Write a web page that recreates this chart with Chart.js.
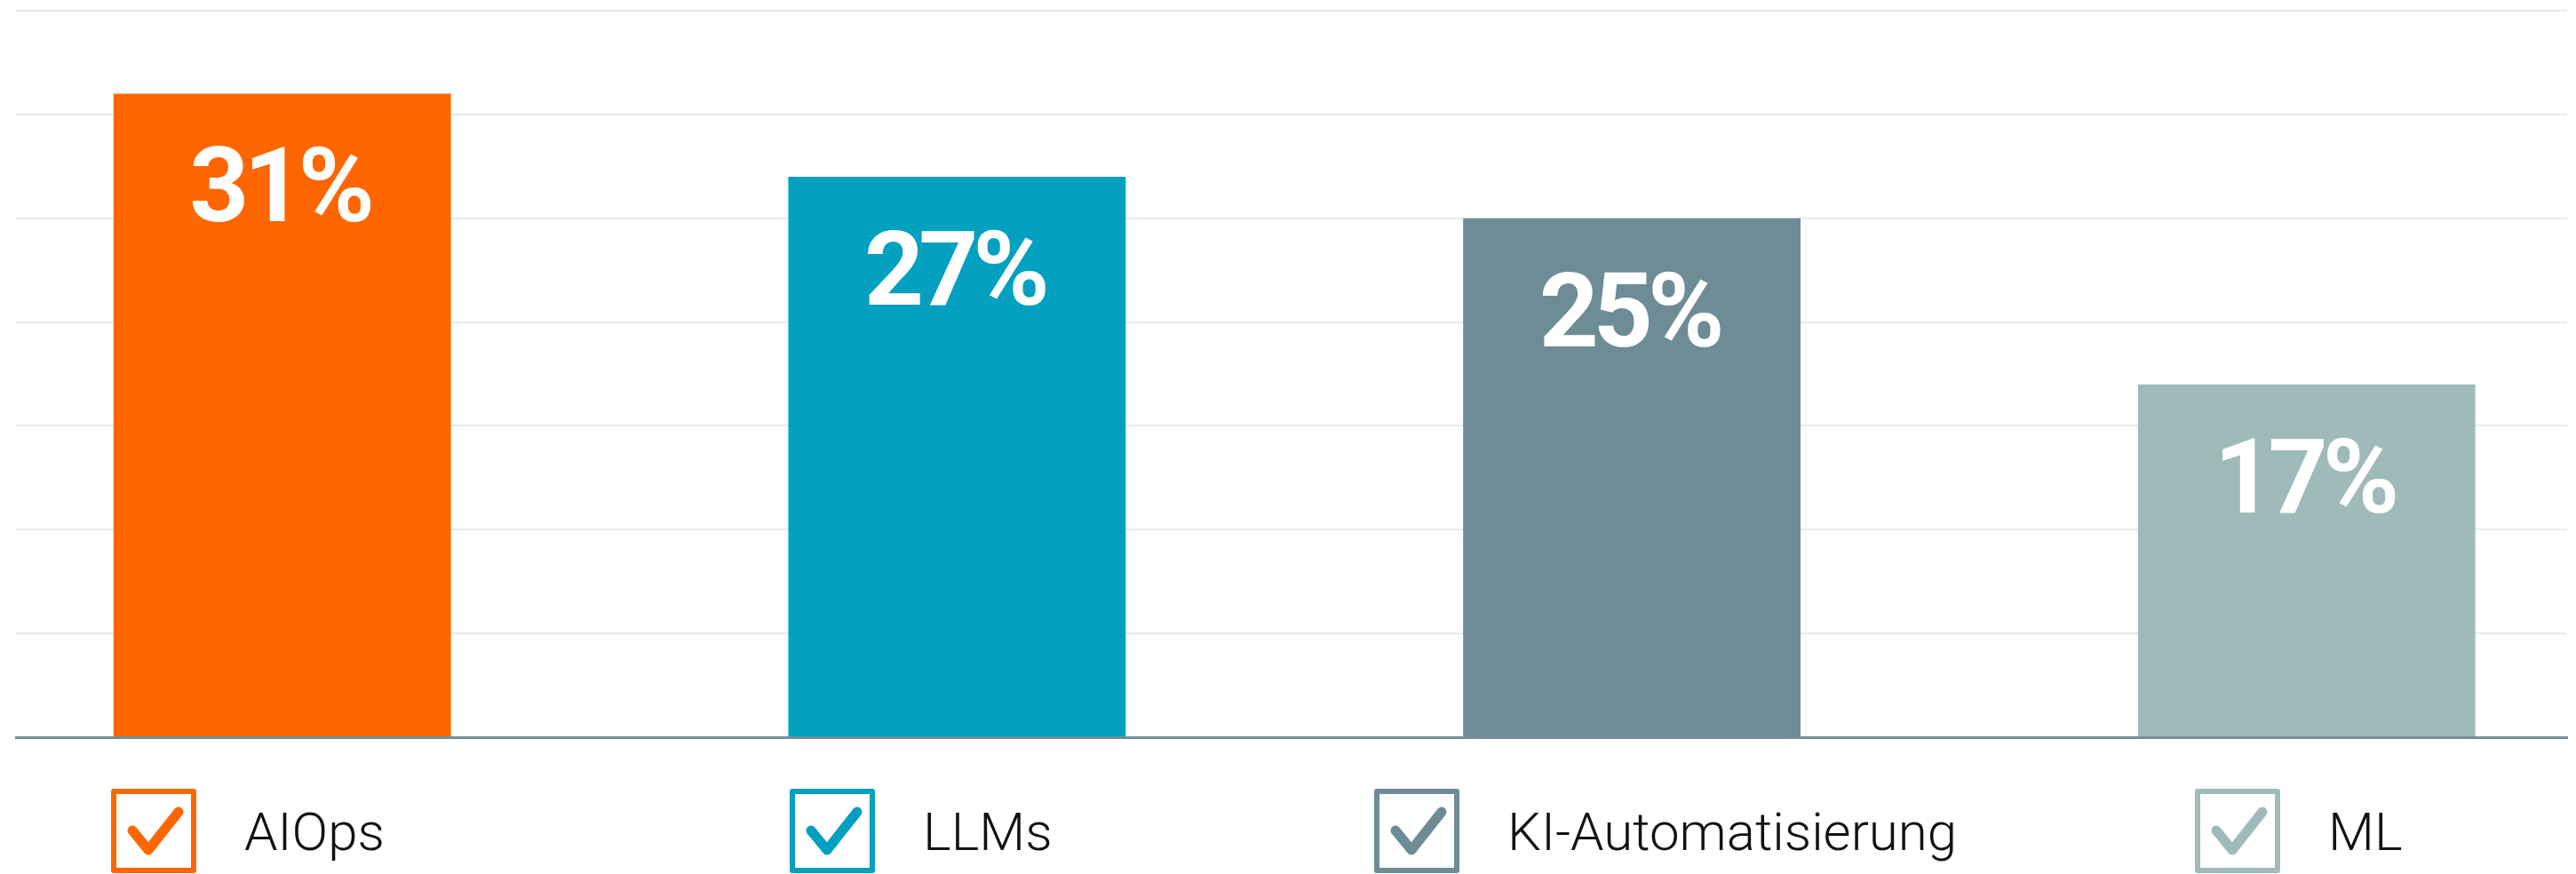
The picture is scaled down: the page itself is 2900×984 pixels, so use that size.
<!DOCTYPE html>
<html lang="de">
<head>
<meta charset="utf-8">
<title>KI-Themen</title>
<script src="https://cdn.jsdelivr.net/npm/chart.js@4.4.1/dist/chart.umd.min.js"></script>
<style>
  html, body { margin: 0; padding: 0; background: #fff; }
  #wrap { position: relative; width: 2900px; height: 984px; overflow: hidden; }
  #chart { position: absolute; left: 0; top: 0; }
  .legend-item { position: absolute; top: 888px; height: 96px; }
  .legend-box { position: absolute; left: 0; top: 0; width: 96px; height: 95px; box-sizing: border-box; border: 6px solid; border-radius: 3px; background: #fff; }
  .legend-box svg { position: absolute; left: -6px; top: -6px; }
  .legend-text { position: absolute; left: 150px; top: 14px; font-family: Roboto, sans-serif; font-weight: 300; font-size: 60px; line-height: 70px; color: #111; white-space: nowrap; }
</style>
</head>
<body>
<div id="wrap">
  <canvas id="chart" width="2900" height="984"></canvas>
  <div id="legend"></div>
</div>
<script>
// Daten
const labels = ['AIOps', 'LLMs', 'KI-Automatisierung', 'ML'];
const values = [31, 27, 25, 17];
const yMax = 35;
const yStep = 5;

// Farben
const colors = ['#ff6600', '#03a0bf', '#6e8c95', '#a0baba'];
const gridColor = '#e4ecec';
const baseColor = '#71909a';

// Position der Legenden-Einträge (px von links)
const legendLeft = [125, 889, 1547, 2471];

/* WERTE IN DEN BALKEN */
const valueLabels = {
    id: 'valueLabels',
    afterDatasetsDraw(chart) {
        let ctx = chart.ctx;
        let meta = chart.getDatasetMeta(0);
        ctx.save();
        ctx.fillStyle = '#ffffff';
        ctx.font = 'bold 117px Roboto';
        ctx.letterSpacing = '-6px';
        ctx.textAlign = 'center';
        ctx.textBaseline = 'alphabetic';
        meta.data.forEach((bar, i) => {
            ctx.fillText(values[i] + '%', bar.x - 3, bar.y + 144);
        });
        ctx.restore();
    }
};

let ctxBar = document.getElementById('chart');

let myChart = new Chart(ctxBar, {
    type: 'bar',
    data: {
        labels: labels,
        datasets: [{
            label: 'Anteil',
            data: values.map((v, i) => ({ x: i, y: v })),
            backgroundColor: colors,
            borderWidth: 0,
            barPercentage: 0.5,
            categoryPercentage: 1
        }]
    },
    options: {
        responsive: false,
        animation: false,
        events: [],
        layout: {
            padding: { left: 18, right: 10, top: 12, bottom: 154 }
        },
        scales: {
            x: {
                type: 'linear',
                offset: false,
                bounds: 'ticks',
                min: -0.3945,
                max: 3.386,
                afterBuildTicks: scale => {
                    scale.ticks = labels.map((l, i) => ({ value: i }));
                },
                ticks: { display: false },
                grid: { display: false, drawTicks: false },
                border: { display: true, color: baseColor, width: 3, z: 1 }
            },
            y: {
                min: 0,
                max: yMax,
                ticks: { display: false, stepSize: yStep },
                grid: { color: gridColor, lineWidth: 2, drawTicks: false },
                border: { display: false }
            }
        },
        plugins: {
            legend: { display: false },
            tooltip: { enabled: false }
        }
    },
    plugins: [valueLabels]
});

/* LEGENDE */
let legend = document.getElementById('legend');
labels.forEach((label, i) => {
    let item = document.createElement('div');
    item.className = 'legend-item';
    item.style.left = legendLeft[i] + 'px';
    item.innerHTML =
        '<div class="legend-box" style="border-color:' + colors[i] + '">' +
        '<svg width="96" height="95" viewBox="0 0 96 95">' +
        '<polyline points="24,47 42,69 76,26" fill="none" stroke="' + colors[i] + '" stroke-width="11" stroke-linecap="round" stroke-linejoin="round"/>' +
        '</svg></div>' +
        '<span class="legend-text">' + label + '</span>';
    legend.appendChild(item);
});
</script>
</body>
</html>
